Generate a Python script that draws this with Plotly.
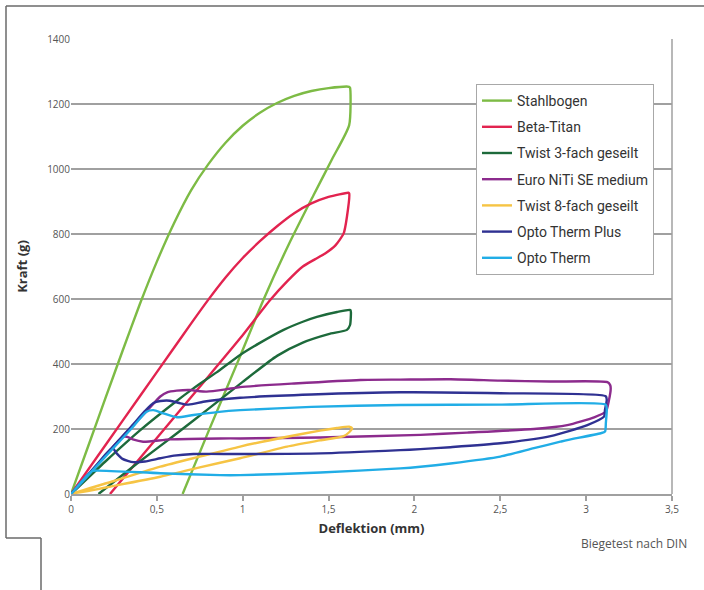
import plotly.graph_objects as go

# ---------------- data ----------------
stahl_x = [0, 0.1, 0.2, 0.3, 0.4, 0.5, 0.6, 0.7, 0.8, 0.9, 1.0, 1.1, 1.2, 1.3, 1.4, 1.5, 1.62,
           1.625, 1.62, 1.52, 1.413, 1.27, 1.121, 0.97, 0.8, 0.65]
stahl_y = [0, 147, 294, 440, 583, 715, 833, 935, 1015, 1081, 1133, 1173, 1203, 1225, 1240, 1249, 1253,
           1250, 1135, 1030, 920, 770, 598, 405, 192, 0]

beta_x = [0, 0.2, 0.4, 0.6, 0.7, 0.8, 0.9, 1.0, 1.1, 1.2, 1.3, 1.4, 1.5, 1.615,
          1.62, 1.607, 1.588, 1.54, 1.48, 1.42, 1.35, 1.26, 1.16, 0.985, 0.75, 0.5, 0.227]
beta_y = [0, 150, 300, 450, 525, 598, 666, 726, 778, 824, 864, 894, 914, 927,
          925, 853, 802, 765, 740, 722, 700, 655, 597, 479, 330, 172, 0]

twist3_x = [0, 0.2, 0.4, 0.6, 0.713, 0.85, 0.985, 1.1, 1.238, 1.35, 1.432, 1.55, 1.627,
            1.63, 1.625, 1.607, 1.5, 1.35, 1.2, 1.0, 0.8, 0.6, 0.4, 0.16]
twist3_y = [0, 100, 195, 280, 325, 375, 428, 465, 505, 530, 545, 560, 566,
            560, 520, 505, 492, 466, 425, 345, 262, 180, 100, 0]

niti_x = [0, 0.2, 0.35, 0.45, 0.52, 0.56, 0.616, 0.694, 0.75, 0.79, 0.9, 0.985, 1.3, 1.685,
          1.918, 2.21, 2.5, 2.79, 3.124, 3.14, 3.143, 3.133, 3.114,
          3.046, 2.89, 2.696, 2.307, 2.035, 1.452, 0.985, 0.869, 0.577, 0.42, 0.36, 0.325,
          0.3, 0.2, 0.1, 0]
niti_y = [0, 118, 205, 260, 300, 313, 318, 320, 316, 315, 322, 329, 340, 351,
          352, 353, 349, 346, 344, 335, 325, 289, 253,
          236, 212, 200, 189, 182, 174, 171, 171, 168, 161, 168, 176,
          175, 118, 60, 0]

twist8_x = [0, 0.25, 0.52, 0.75, 0.985, 1.258, 1.45, 1.549, 1.62, 1.637,
            1.62, 1.588, 1.45, 1.258, 0.985, 0.75, 0.52, 0.25, 0]
twist8_y = [0, 40, 84, 115, 146, 176, 195, 203, 207, 202,
            190, 178, 165, 146, 110, 82, 53, 25, 0]

otp_x = [0, 0.2, 0.35, 0.43, 0.48, 0.52, 0.577, 0.63, 0.675, 0.72, 0.77, 0.985, 1.4, 1.918,
         2.5, 3.114, 3.12, 3.11, 3.104,
         3.007, 2.793, 2.5, 2.21, 2.035, 1.918, 1.452, 0.985, 0.713, 0.6, 0.52, 0.43, 0.363,
         0.3, 0.266, 0.24, 0.15, 0]
otp_y = [0, 120, 207, 255, 280, 286, 287, 280, 275, 278, 284, 296, 306, 313,
         310, 301, 290, 260, 238,
         212, 178, 156, 144, 138, 135, 125, 123, 123, 118, 110, 100, 98,
         108, 125, 142, 90, 0]

ot_x = [0, 0.2, 0.35, 0.44, 0.48, 0.538, 0.616, 0.713, 0.85, 0.985, 1.4, 1.918, 2.5, 3.114,
        3.12, 3.115, 3.11,
        3.085, 2.89, 2.85, 2.696, 2.5, 2.21, 2.035, 1.918, 1.452, 0.985, 0.869, 0.52, 0.15,
        0.12, 0]
ot_y = [0, 115, 200, 253, 258, 248, 236, 243, 252, 258, 268, 274, 275, 275,
        260, 220, 192,
        187, 166, 161, 141, 115, 94, 84, 79, 66, 58, 58, 64, 72,
        70, 0]

series_names = ["Stahlbogen", "Beta-Titan", "Twist 3-fach geseilt", "Euro NiTi SE medium",
                "Twist 8-fach geseilt", "Opto Therm Plus", "Opto Therm"]
series_colors = ["#7dbb45", "#e2234f", "#1d6a3b", "#8c2b8d", "#f6c444", "#2f3192", "#21ade6"]
series_x = [stahl_x, beta_x, twist3_x, niti_x, twist8_x, otp_x, ot_x]
series_y = [stahl_y, beta_y, twist3_y, niti_y, twist8_y, otp_y, ot_y]

x_tickvals = [0, 0.5, 1, 1.5, 2, 2.5, 3, 3.5]
x_ticktext = ["0", "0,5", "1", "1,5", "2", "2,5", "3", "3,5"]
y_tickvals = [0, 200, 400, 600, 800, 1000, 1200, 1400]

# ---------------- figure ----------------
W, H = 704, 590
L, R, T, B = 71, 672, 39, 494


def px(xp):
    return (xp - L) / (R - L)


def py(yp):
    return (B - yp) / (B - T)


fig = go.Figure()
for name, color, xs, ys in zip(series_names, series_colors, series_x, series_y):
    fig.add_trace(go.Scatter(
        x=xs, y=ys, mode="lines", name=name, legendgroup=name,
        line=dict(color=color, width=2.4, shape="spline", smoothing=0.6),
        hoverinfo="skip",
    ))

tick_font = dict(family="Open Sans, Roboto, sans-serif", size=10, color="#555555")
title_font = dict(family="Open Sans, Roboto, sans-serif", size=13, color="#333333")

fig.update_layout(
    width=W, height=H,
    margin=dict(l=L, r=W - R, t=T, b=H - B),
    paper_bgcolor="white", plot_bgcolor="white",
    showlegend=True,
    legend=dict(
        x=px(476), y=py(84), xanchor="left", yanchor="top",
        bgcolor="white", bordercolor="#a8a8a8", borderwidth=1,
        font=dict(family="Roboto, sans-serif", size=14, color="#333333"),
        tracegroupgap=5, itemwidth=30,
    ),
    xaxis=dict(
        range=[0, 3.5], tickvals=x_tickvals, ticktext=x_ticktext,
        showgrid=False, zeroline=False,
        showline=True, linecolor="#a0a0a0", linewidth=1.5,
        ticks="outside", ticklen=5, tickcolor="#a0a0a0", tickwidth=1.5,
        tickfont=tick_font,
        title=dict(text="<b>Deflektion (mm)</b>", standoff=9, font=title_font),
    ),
    yaxis=dict(
        range=[0, 1400], tickvals=y_tickvals,
        showgrid=True, gridcolor="#a0a0a0", gridwidth=1.5,
        zeroline=False, showline=False,
        ticks="", tickfont=tick_font,
        title=dict(text="<b>Kraft (g)</b>", standoff=16, font=title_font),
    ),
)

frame = dict(color="#6a6a6a", width=1.5)
shapes = [
    dict(type="line", xref="paper", yref="paper", x0=1, x1=1, y0=0, y1=1,
         line=dict(color="#a0a0a0", width=1.5)),
    dict(type="line", xref="paper", yref="paper", x0=px(6), x1=px(704), y0=py(6), y1=py(6), line=frame),
    dict(type="line", xref="paper", yref="paper", x0=px(6), x1=px(6), y0=py(6), y1=py(538), line=frame),
    dict(type="line", xref="paper", yref="paper", x0=px(6), x1=px(41), y0=py(538), y1=py(538), line=frame),
    dict(type="line", xref="paper", yref="paper", x0=px(41), x1=px(41), y0=py(538), y1=py(592), line=frame),
]
fig.update_layout(shapes=shapes)

fig.add_annotation(
    text="Biegetest nach DIN", xref="paper", yref="paper",
    x=px(689), y=py(543), xanchor="right", yanchor="middle", showarrow=False,
    font=dict(family="Open Sans, Roboto, sans-serif", size=12, color="#555555"),
)

fig.write_html("out.html", config={"displayModeBar": False},
               post_script="document.body.style.margin='0px';")
